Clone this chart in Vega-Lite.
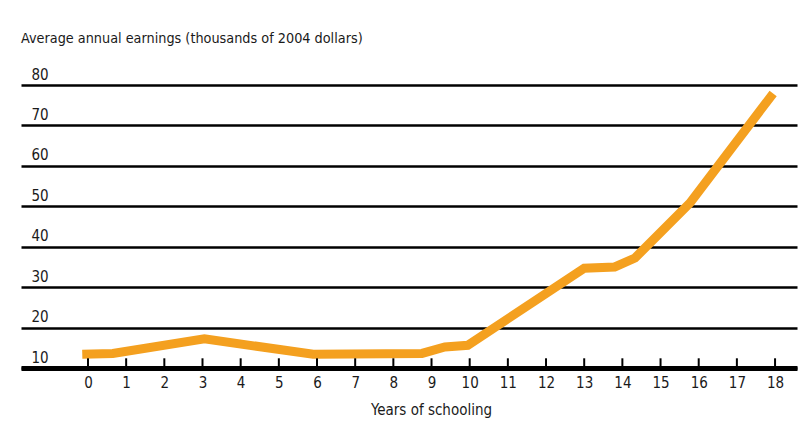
{
  "$schema": "https://vega.github.io/schema/vega-lite/v6.json",
  "width": 776,
  "height": 283,
  "autosize": {"type": "none"},
  "padding": {"left": 21, "top": 85, "right": 11, "bottom": 66},
  "background": "white",
  "title": {
    "text": "Average annual earnings (thousands of 2004 dollars)",
    "anchor": "start",
    "frame": "group",
    "orient": "top",
    "baseline": "alphabetic",
    "offset": 10,
    "font": "DejaVu Sans Condensed",
    "fontSize": 14.3,
    "fontWeight": "normal",
    "color": "#1a1a1a"
  },
  "config": {
    "view": {"stroke": null},
    "font": "DejaVu Sans Condensed"
  },
  "datasets": {
    "earnings_data": [
      {"years": -0.15, "earnings": 13.4},
      {"years": 0.65, "earnings": 13.6},
      {"years": 3.05, "earnings": 17.2},
      {"years": 5.9, "earnings": 13.4},
      {"years": 8.75, "earnings": 13.6},
      {"years": 9.35, "earnings": 15.2},
      {"years": 9.95, "earnings": 15.6},
      {"years": 13.0, "earnings": 34.7},
      {"years": 13.8, "earnings": 35.0},
      {"years": 14.33, "earnings": 37.2},
      {"years": 15.77, "earnings": 50.8},
      {"years": 17.95, "earnings": 77.9}
    ],
    "year_marks": [
      {"years": 0, "base": 10, "top": 12.4}, {"years": 1, "base": 10, "top": 12.4},
      {"years": 2, "base": 10, "top": 12.4}, {"years": 3, "base": 10, "top": 12.4},
      {"years": 4, "base": 10, "top": 12.4}, {"years": 5, "base": 10, "top": 12.4},
      {"years": 6, "base": 10, "top": 12.4}, {"years": 7, "base": 10, "top": 12.4},
      {"years": 8, "base": 10, "top": 12.4}, {"years": 9, "base": 10, "top": 12.4},
      {"years": 10, "base": 10, "top": 12.4}, {"years": 11, "base": 10, "top": 12.4},
      {"years": 12, "base": 10, "top": 12.4}, {"years": 13, "base": 10, "top": 12.4},
      {"years": 14, "base": 10, "top": 12.4}, {"years": 15, "base": 10, "top": 12.4},
      {"years": 16, "base": 10, "top": 12.4}, {"years": 17, "base": 10, "top": 12.4},
      {"years": 18, "base": 10, "top": 12.4}
    ]
  },
  "layer": [
    {
      "data": {"name": "earnings_data"},
      "mark": {
        "type": "line",
        "color": "#F4A01F",
        "strokeWidth": 9,
        "strokeCap": "butt",
        "strokeJoin": "miter",
        "clip": false
      },
      "encoding": {
        "x": {
          "field": "years",
          "type": "quantitative",
          "scale": {"domain": [-1.755, 18.575], "nice": false, "zero": false, "padding": 0},
          "axis": {
            "title": "Years of schooling",
            "titleFont": "DejaVu Sans Condensed",
            "titleFontSize": 15,
            "titleFontWeight": "normal",
            "titleColor": "#1a1a1a",
            "titleX": 410,
            "titleAnchor": "middle",
            "titlePadding": 12,
            "values": [0,1,2,3,4,5,6,7,8,9,10,11,12,13,14,15,16,17,18],
            "grid": false,
            "domain": true,
            "domainColor": "#000000",
            "domainWidth": 5,
            "ticks": false,
            "labelPadding": 7,
            "labelFont": "DejaVu Sans Condensed",
            "labelFontSize": 15,
            "labelColor": "#1a1a1a",
            "labelFlush": false
          }
        },
        "y": {
          "field": "earnings",
          "type": "quantitative",
          "scale": {"domain": [10, 80], "nice": false, "zero": false},
          "axis": {
            "title": null,
            "values": [10,20,30,40,50,60,70,80],
            "domain": false,
            "ticks": false,
            "grid": true,
            "gridColor": "#000000",
            "gridWidth": 2.5,
            "gridOpacity": 1,
            "labelAlign": "left",
            "labelBaseline": "alphabetic",
            "labelOffset": -6,
            "labelPadding": -10,
            "labelFont": "DejaVu Sans Condensed",
            "labelFontSize": 15,
            "labelColor": "#1a1a1a",
            "labelFlush": false
          }
        }
      }
    },
    {
      "data": {"name": "year_marks"},
      "mark": {"type": "bar", "color": "#000000", "size": 2, "clip": false},
      "encoding": {
        "x": {"field": "years", "type": "quantitative"},
        "y": {"field": "base", "type": "quantitative"},
        "y2": {"field": "top"}
      }
    }
  ]
}
